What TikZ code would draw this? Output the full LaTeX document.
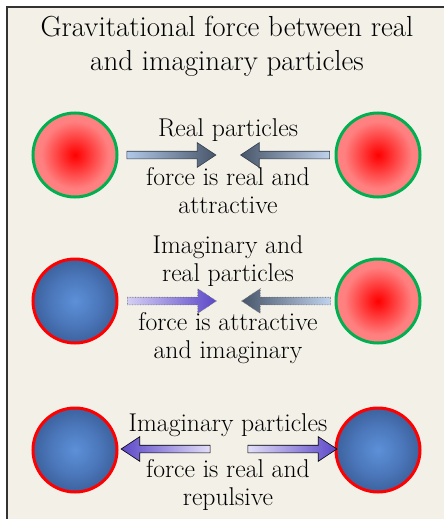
\documentclass[tikz,border=0pt]{standalone}
\usepackage{xcolor}
\usetikzlibrary{shapes.arrows,positioning}

\definecolor{paper}{RGB}{243,240,232}
\definecolor{ringgreen}{RGB}{0,176,80}
\definecolor{slate}{RGB}{72,86,106}
\definecolor{skyblue}{RGB}{176,200,232}
\definecolor{lavender}{RGB}{226,222,248}
\definecolor{violet}{RGB}{92,72,200}

\pgfdeclareradialshading{realball}{\pgfpoint{0bp}{0bp}}{%
  color(0bp)=(red); color(5bp)=(red!88!white); color(20bp)=(red!50!white); color(50bp)=(red!47!white)}
\pgfdeclareradialshading{imagball}{\pgfpoint{0bp}{0bp}}{%
  color(0bp)=(rgb,255:red,92;green,144;blue,216); color(14bp)=(rgb,255:red,76;green,120;blue,188);
  color(30bp)=(rgb,255:red,54;green,88;blue,144); color(50bp)=(rgb,255:red,36;green,62;blue,108)}

\begin{document}
\begin{tikzpicture}[x=1pt, y=-1pt,
    particle/.style={circle, minimum size=84pt, inner sep=0pt, line width=3pt},
    real/.style={particle, draw=ringgreen, shading=realball},
    imag/.style={particle, draw=red, shading=imagball},
    blockarrow/.style={single arrow, minimum height=89pt, minimum width=24pt,
        single arrow head extend=8.5pt, single arrow tip angle=67,
        inner sep=0pt, inner ysep=3.5pt, line width=0.6pt},
    pointleft/.style={shape border rotate=180},
    label/.style={align=center, font=\fontsize{25.7}{28}\selectfont}
]
    \useasboundingbox (0,0) rectangle (444,519);
    \fill[paper] (7,7) rectangle (444,519);
    \draw[line width=1.5pt, black!80] (7,519) -- (7,7) -- (444,7);

    \node[align=center, font=\fontsize{29}{34}\selectfont] (title) at (227,46)
        {Gravitational force between real\\and imaginary particles};

    % Particles
    \node[real] (p1l) at (75,155) {};
    \node[real] (p1r) at (378,155) {};
    \node[imag] (p2l) at (75,301) {};
    \node[real] (p2r) at (378,301) {};
    \node[imag] (p3l) at (75,450) {};
    \node[imag] (p3r) at (378,450) {};

    % Real -- real: attractive
    \node[blockarrow, draw=slate!70!black, left color=skyblue, right color=slate] (a1l) at (168.5,155) {};
    \node[blockarrow, pointleft, draw=slate!70!black, left color=slate, right color=skyblue!80!white] (a1r) at (288,155) {};
    \node[label] (t1a) at (228,130) {Real particles};
    \node[label] (t1b) at (228,191) {force is real and\\attractive};

    % Imaginary -- real: attractive and imaginary
    \node[blockarrow, densely dotted, draw=black!60, left color=lavender!90!violet, right color=violet] (a2l) at (169,301) {};
    \node[blockarrow, pointleft, densely dotted, draw=black!60, left color=slate, right color=skyblue!80!white] (a2r) at (289,301) {};
    \node[label] (t2a) at (228,261) {Imaginary and\\real particles};
    \node[label] (t2b) at (228,338) {force is attractive\\and imaginary};

    % Imaginary -- imaginary: repulsive
    \node[blockarrow, pointleft, draw=black, left color=violet, right color=lavender] (a3l) at (168.5,449) {};
    \node[blockarrow, draw=black, left color=lavender, right color=violet] (a3r) at (289.5,449) {};
    \node[label] (t3a) at (228,425) {Imaginary particles};
    \node[label] (t3b) at (228,485) {force is real and\\repulsive};
\end{tikzpicture}
\end{document}
